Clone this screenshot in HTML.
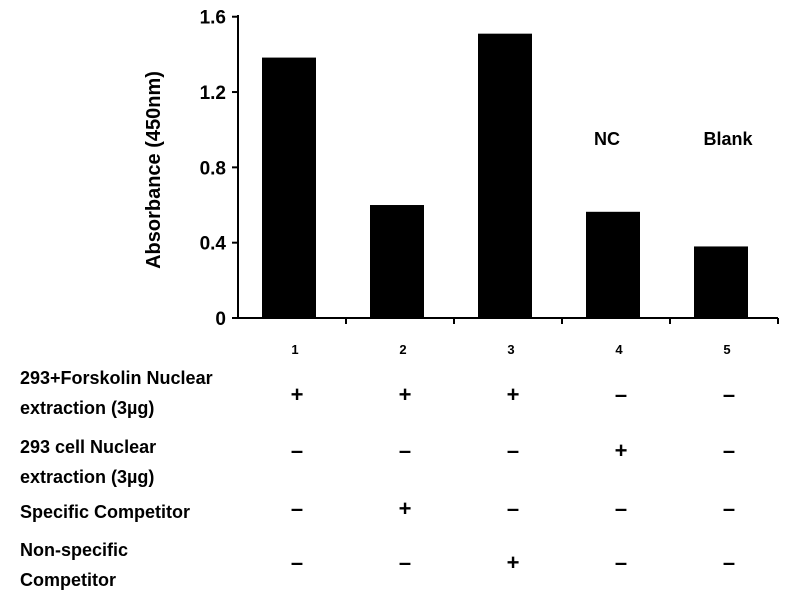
<!DOCTYPE html>
<html><head><meta charset="utf-8"><style>
body{margin:0;background:#fff;width:800px;height:600px;overflow:hidden}
svg text{font-family:"Liberation Sans",sans-serif;font-weight:bold;fill:#000}
</style></head><body>
<svg id="chart" width="800" height="600">
<g id="bars"></g>
<line x1="238" y1="15" x2="238" y2="318" stroke="#000" stroke-width="2"/>
<line x1="237" y1="318" x2="778" y2="318" stroke="#000" stroke-width="2"/>
<g id="ticks"></g>
<text x="160" y="170" font-size="20" text-anchor="middle" transform="rotate(-90 160 170)">Absorbance (450nm)</text>
<text x="607" y="145" font-size="18" text-anchor="middle">NC</text>
<text x="728" y="145" font-size="18" text-anchor="middle">Blank</text>
<g font-size="18">
<text x="20" y="384">293+Forskolin Nuclear</text>
<text x="20" y="414">extraction (3µg)</text>
<text x="20" y="453">293 cell Nuclear</text>
<text x="20" y="483">extraction (3µg)</text>
<text x="20" y="518">Specific Competitor</text>
<text x="20" y="556">Non-specific</text>
<text x="20" y="586">Competitor</text>
</g>
<g id="signs"></g>
</svg>
<script>
const categories=["1","2","3","4","5"];
const values=[1.383,0.60,1.51,0.564,0.38];
const yTicks=[0,0.4,0.8,1.2,1.6];
const yTickLabels=["0","0.4","0.8","1.2","1.6"];
const rowSigns=[["+","+","+","–","–"],["–","–","–","+","–"],["–","+","–","–","–"],["–","–","+","–","–"]];
const NS="http://www.w3.org/2000/svg";
const y=v=>318-v*188.3;
const x=i=>238+108*i+51;
const bars=document.getElementById('bars'),ticks=document.getElementById('ticks'),signs=document.getElementById('signs');
function mk(tag,attrs,parent,txt){const e=document.createElementNS(NS,tag);for(const k in attrs)e.setAttribute(k,attrs[k]);if(txt!==undefined)e.textContent=txt;parent.appendChild(e);return e;}
values.forEach((v,i)=>{
 const r=mk('rect',{x:x(i)-27,y:y(v),width:54,height:318-y(v),fill:'#000'},bars);
 
 
 const t=mk('text',{x:x(i)+6,y:354,'font-size':13,'text-anchor':'middle'},ticks,categories[i]);
 
 
 const tk=mk('line',{x1:238+108*(i+1),y1:318,x2:238+108*(i+1),y2:324,stroke:'#000','stroke-width':2},ticks);
 
 
});
yTicks.forEach((v,i)=>{
 const l=mk('line',{x1:232,y1:y(v),x2:238,y2:y(v),stroke:'#000','stroke-width':2},ticks);
 
 
 const t=mk('text',{x:226,y:y(v)+7,'font-size':19,'text-anchor':'end'},ticks,yTickLabels[i]);
 
 
});
const rowY=[402,458,516,570];
rowSigns.forEach((row,r)=>row.forEach((s,i)=>{
 const t=mk('text',{x:x(i)+8,y:rowY[r],'font-size':22,'text-anchor':'middle'},signs,s);
 
 
}));
</script>
</body></html>
